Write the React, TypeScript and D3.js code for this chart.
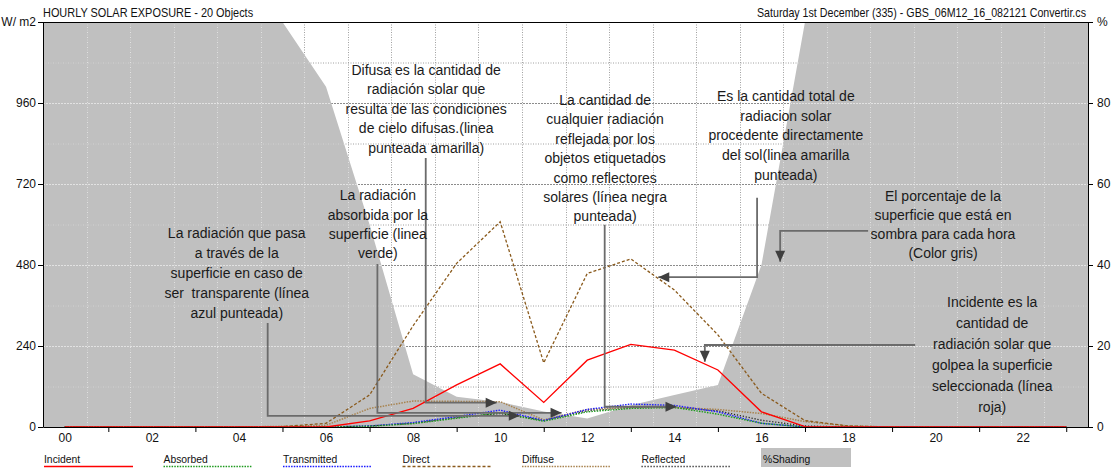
import { useEffect, useRef } from 'react';
import * as d3 from 'd3';

// hourly values (W/m2)
const hours = [0, 1, 2, 3, 4, 5, 6, 7, 8, 9, 10, 11, 12, 13, 14, 15, 16, 17, 18, 19, 20, 21, 22, 23];
const incident = [0, 0, 0, 0, 0, 0, 0, 18, 55, 125, 187, 73, 198, 245, 228, 169, 45, 1, 0, 0, 0, 0, 0, 0];
const absorbed = [0, 0, 0, 0, 0, 0, 0, 2, 10, 26, 42, 17, 45, 55, 58, 38, 11, 0, 0, 0, 0, 0, 0, 0];
const transmitted = [0, 0, 0, 0, 0, 0, 0, 3, 13, 31, 50, 19, 52, 68, 64, 45, 11, 0, 0, 0, 0, 0, 0, 0];
const direct = [0, 0, 0, 0, 0, 1, 11, 95, 300, 485, 608, 190, 455, 498, 406, 273, 100, 19, 3, 0, 0, 0, 0, 0];
const diffuse = [0, 0, 0, 0, 0, 2, 5, 55, 77, 76, 75, 21, 52, 58, 58, 52, 40, 16, 3, 0, 0, 0, 0, 0];
const reflected = [0, 0, 0, 0, 0, 0, 0, 3, 11, 28, 40, 20, 48, 58, 58, 48, 20, 3, 0, 0, 0, 0, 0, 0];
// % of the surface in shade per hour (right axis)
const shading = [100, 100, 100, 100, 100, 100, 84, 50, 13, 7.5, 6.2, 3.8, 2.1, 5.4, 7.9, 10.4, 40, 100, 100, 100, 100, 100, 100, 100];

const leftTicks = [0, 240, 480, 720, 960, 1200];
const rightTicks = [0, 20, 40, 60, 80, 100];
const hourLabels = [0, 2, 4, 6, 8, 10, 12, 14, 16, 18, 20, 22];
const hourTicks = [1, 3, 5, 7, 9, 11, 13, 15, 17, 19, 21, 23];

const titleLeft = 'HOURLY SOLAR EXPOSURE - 20 Objects';
const titleRight = 'Saturday 1st December (335) - GBS_06M12_16_082121 Convertir.cs';

interface Series {
  name: string;
  values: number[];
  color: string;
  dash: string | null;
  width: number;
}

const series: Series[] = [
  { name: 'Incident', values: incident, color: '#ff0000', dash: null, width: 1.3 },
  { name: 'Absorbed', values: absorbed, color: '#1e9a1e', dash: '1.5,1.2', width: 1.4 },
  { name: 'Transmitted', values: transmitted, color: '#1a1aff', dash: '1.5,1.2', width: 1.4 },
  { name: 'Direct', values: direct, color: '#8a5a1c', dash: '3,2', width: 1.3 },
  { name: 'Diffuse', values: diffuse, color: '#a8834f', dash: '1.5,1.2', width: 1.5 },
  { name: 'Reflected', values: reflected, color: '#222222', dash: '1.2,1.8', width: 1.3 },
];

// annotation callouts, positioned in chart units (hour, W/m2)
interface Note {
  lines: string[];
  cx: number;      // hour of text centre
  top: number;     // W/m2 of first line centre
  lh: number;      // line height px
  path: [number, number][];
  arrow: 'right' | 'left' | 'down';
}

const notes: Note[] = [
  {
    lines: ['Difusa es la cantidad de', 'radiación solar que', 'resulta de las condiciones', 'de cielo difusas.(linea', 'punteada amarilla)'],
    cx: 8.3, top: 1058, lh: 19.5,
    path: [[8.29, 797], [8.29, 72], [9.92, 72]], arrow: 'right',
  },
  {
    lines: ['La radiación', 'absorbida por la', 'superficie (linea', 'verde)'],
    cx: 7.19, top: 687, lh: 19.4,
    path: [[7.18, 483], [7.18, 42], [11.41, 42]], arrow: 'right',
  },
  {
    lines: ['La radiación que pasa', 'a través de la', 'superficie en caso de', 'ser  transparente (línea', 'azul punteada)'],
    cx: 3.95, top: 575, lh: 20,
    path: [[4.66, 308], [4.66, 33], [10.45, 33]], arrow: 'right',
  },
  {
    lines: ['La cantidad de', 'cualquier radiación', 'reflejada por los', 'objetos etiquetados', 'como reflectores', 'solares (línea negra', 'punteada)'],
    cx: 12.41, top: 969, lh: 19.4,
    path: [[12.4, 599], [12.4, 60], [14.05, 60]], arrow: 'right',
  },
  {
    lines: ['Es la cantidad total de', 'radiacion solar', 'procedente directamente', 'del sol(linea amarilla', 'punteada)'],
    cx: 16.56, top: 981, lh: 19.7,
    path: [[15.9, 679], [15.9, 444], [13.63, 444]], arrow: 'left',
  },
  {
    lines: ['El porcentaje de la', 'superficie que está en', 'sombra para cada hora', '(Color gris)'],
    cx: 20.17, top: 684, lh: 19,
    path: [[18.45, 581], [16.43, 581], [16.43, 490]], arrow: 'down',
  },
  {
    lines: ['Incidente es la', 'cantidad de', 'radiación solar que', 'golpea la superficie', 'seleccionada (línea', 'roja)'],
    cx: 21.3, top: 370, lh: 21,
    path: [[19.53, 243], [14.7, 243], [14.7, 193]], arrow: 'down',
  },
];

const FONT = '"Liberation Sans", Arial, sans-serif';

const App = () => {
  const svgRef = useRef<SVGSVGElement>(null);

  useEffect(() => {
    if (!svgRef.current) return;
    document.body.style.margin = '0';

    const width = 1114;
    const height = 468;
    const left = 43, right = 1088, top = 22, bottom = 427;

    const svg = d3.select(svgRef.current);
    svg.selectAll('*').remove();
    svg.attr('width', width).attr('height', height).style('display', 'block');

    const x = d3.scaleLinear().domain([-0.5, 23.5]).range([left, right]);
    const y = d3.scaleLinear().domain([0, 1200]).range([bottom, top]);
    const yPct = d3.scaleLinear().domain([0, 100]).range([bottom, top]);

    svg.append('rect').attr('width', width).attr('height', height).attr('fill', '#ffffff');

    // shading area (extended to the plot edges)
    const shadePts: [number, number][] = [
      [-0.5, shading[0]],
      ...hours.map((h, i) => [h, shading[i]] as [number, number]),
      [23.5, shading[shading.length - 1]],
    ];
    const shadeArea = d3.area<[number, number]>()
      .x(d => x(d[0]))
      .y0(bottom)
      .y1(d => yPct(d[1]));
    const shadeD = shadeArea(shadePts) || '';
    svg.append('path')
      .attr('fill', '#c0c0c0')
      .attr('d', shadeD);
    svg.append('clipPath').attr('id', 'shade-clip')
      .append('path').attr('d', shadeD);

    // grid: gray dots on white, light dots inside the shaded area
    const drawGrid = (g: d3.Selection<SVGGElement, unknown, null, undefined>, light: boolean) => {
      d3.range(120, 1200, 120).forEach(v => {
        const strong = v % 240 === 0;
        g.append('line')
          .attr('x1', left).attr('x2', right)
          .attr('y1', y(v) + 0.5).attr('y2', y(v) + 0.5)
          .attr('stroke', light ? '#e2e2e2' : (strong ? '#8c8c8c' : '#a0a0a0'))
          .attr('stroke-width', 1)
          .attr('stroke-dasharray', strong ? '2,1' : '1,1.5');
      });
      d3.range(0.5, 23.5, 1).forEach(h => {
        g.append('line')
          .attr('x1', Math.round(x(h)) + 0.5).attr('x2', Math.round(x(h)) + 0.5)
          .attr('y1', top).attr('y2', bottom)
          .attr('stroke', light ? '#e2e2e2' : '#a0a0a0')
          .attr('stroke-width', 1)
          .attr('stroke-dasharray', '1,1.5');
      });
    };
    drawGrid(svg.append('g'), false);
    drawGrid(svg.append('g').attr('clip-path', 'url(#shade-clip)'), true);

    // series lines
    const line = d3.line<number>()
      .x((_, i) => x(hours[i]))
      .y(d => y(d));
    [...series].reverse().forEach(s => {
      const p = svg.append('path')
        .datum(s.values)
        .attr('fill', 'none')
        .attr('stroke', s.color)
        .attr('stroke-width', s.width)
        .attr('d', line);
      if (s.dash) p.attr('stroke-dasharray', s.dash);
    });

    // frame
    svg.append('line')
      .attr('x1', left).attr('x2', right).attr('y1', top + 0.5).attr('y2', top + 0.5)
      .attr('stroke', '#000').attr('stroke-width', 1);

    const styleAxis = (g: d3.Selection<SVGGElement, unknown, null, undefined>) => {
      g.attr('font-family', FONT).attr('font-size', 12);
      g.selectAll('text').attr('fill', '#111');
      g.selectAll('line').attr('stroke', '#000');
      g.select('.domain').attr('stroke', '#000');
    };

    svg.append('g')
      .attr('transform', `translate(${left},0)`)
      .call(d3.axisLeft(y).tickValues(leftTicks).tickSize(5).tickSizeOuter(0).tickPadding(2)
        .tickFormat(d => (+d === 1200 ? 'W/ m2' : String(d))))
      .call(styleAxis);

    svg.append('g')
      .attr('transform', `translate(${right},0)`)
      .call(d3.axisRight(yPct).tickValues(rightTicks).tickSize(5).tickSizeOuter(0).tickPadding(4)
        .tickFormat(d => (+d === 100 ? '%' : String(d))))
      .call(styleAxis);

    svg.append('g')
      .attr('transform', `translate(0,${bottom})`)
      .call(d3.axisBottom(x).tickValues(hourTicks).tickSize(5).tickSizeOuter(0).tickFormat(() => ''))
      .call(styleAxis);

    svg.append('g')
      .attr('transform', `translate(0,${bottom})`)
      .call(d3.axisBottom(x).tickValues(hourLabels).tickSize(0).tickPadding(6).tickFormat(d3.format('02d')))
      .call(styleAxis)
      .call(g => g.select('.domain').remove());

    // titles (condensed as in the original)
    svg.append('text')
      .attr('x', 0).attr('y', 0)
      .attr('transform', `translate(${left},17) scale(0.91,1)`)
      .attr('font-family', FONT).attr('font-size', 12).attr('fill', '#111')
      .text(titleLeft);
    svg.append('text')
      .attr('x', 0).attr('y', 0)
      .attr('text-anchor', 'end')
      .attr('transform', `translate(${right - 2},17) scale(0.89,1)`)
      .attr('font-family', FONT).attr('font-size', 12).attr('fill', '#111')
      .text(titleRight);

    // annotations
    const ann = svg.append('g').attr('class', 'notes');
    notes.forEach(n => {
      const t = ann.append('text')
        .attr('font-family', FONT).attr('font-size', 14).attr('fill', '#1a1a1a')
        .attr('text-anchor', 'middle');
      n.lines.forEach((l, i) => {
        t.append('tspan')
          .attr('x', x(n.cx))
          .attr('y', y(n.top) + i * n.lh + 5)
          .attr('xml:space', 'preserve')
          .text(l);
      });
      const pts = n.path.map(([h, v]) => [x(h), y(v)] as [number, number]);
      ann.append('path')
        .attr('d', d3.line()(pts))
        .attr('fill', 'none')
        .attr('stroke', '#6b6b6b')
        .attr('stroke-width', 1.8);
      const [tx, ty] = pts[pts.length - 1];
      let tri: [number, number][];
      if (n.arrow === 'right') tri = [[tx, ty], [tx - 11, ty - 5], [tx - 11, ty + 5]];
      else if (n.arrow === 'left') tri = [[tx, ty], [tx + 11, ty - 5], [tx + 11, ty + 5]];
      else tri = [[tx, ty], [tx - 5, ty - 11], [tx + 5, ty - 11]];
      ann.append('path')
        .attr('d', d3.line()(tri) + 'Z')
        .attr('fill', '#3f3f3f');
    });

    // legend
    const legend = svg.append('g').attr('font-family', FONT).attr('font-size', 11.5);
    series.forEach((s, i) => {
      const lx = 44 + i * 119.5;
      legend.append('text').attr('x', 0).attr('y', 0).attr('fill', '#111')
        .attr('transform', `translate(${lx},463) scale(0.9,1)`)
        .text(s.name);
      const l = legend.append('line')
        .attr('x1', lx).attr('x2', lx + 89)
        .attr('y1', 466.5).attr('y2', 466.5)
        .attr('stroke', s.color).attr('stroke-width', 1.5);
      if (s.dash) l.attr('stroke-dasharray', s.dash);
    });
    const sx = 44 + series.length * 119.5;
    legend.append('rect')
      .attr('x', sx).attr('y', 448).attr('width', 90).attr('height', 19)
      .attr('fill', '#c0c0c0');
    legend.append('text').attr('x', 0).attr('y', 0).attr('fill', '#111')
      .attr('transform', `translate(${sx + 2},463) scale(0.9,1)`)
      .text('%Shading');
  }, []);

  return <svg ref={svgRef} />;
};

export default App;
